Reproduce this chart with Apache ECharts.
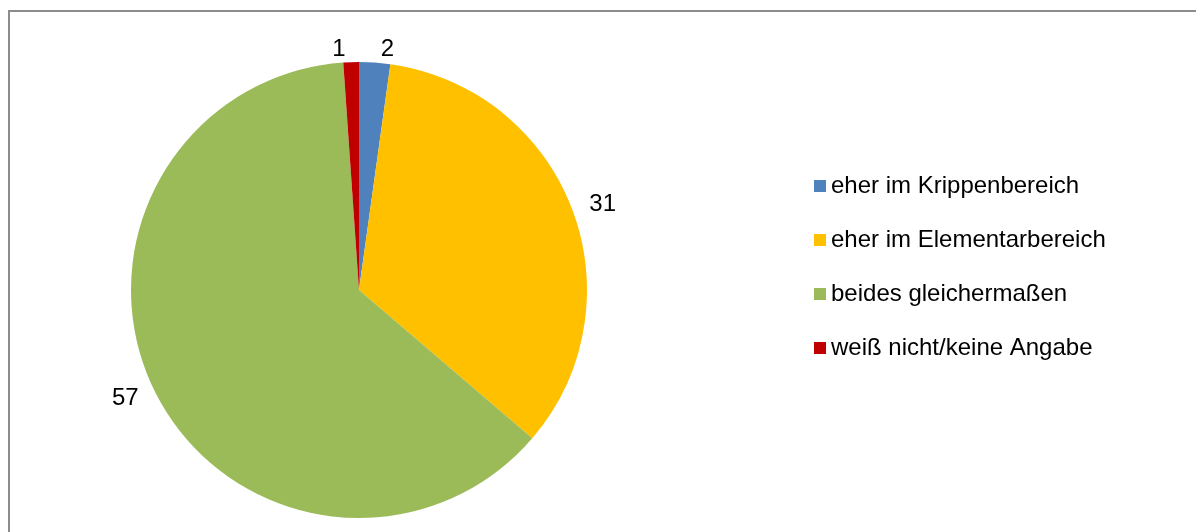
<!DOCTYPE html>
<html>
<head>
<meta charset="utf-8">
<script src="https://cdn.jsdelivr.net/npm/echarts@6/dist/echarts.min.js"></script>
<style>
    html, body { margin: 0; padding: 0; background: #fff; }
    #main { width: 1196px; height: 532px; }
</style>
</head>
<body>
<div id="main"></div>
<script>
var categories = ['eher im Krippenbereich', 'eher im Elementarbereich', 'beides gleichermaßen', 'weiß nicht/keine Angabe'];
var values = [2, 31, 57, 1];
var colors = ['#4F81BD', '#FFC000', '#9BBB59', '#C00000'];

var chart = echarts.init(document.getElementById('main'));

var pieData = [];
for (var i = 0; i < categories.length; i++) {
    pieData.push({
        name: categories[i],
        value: values[i],
        itemStyle: { color: colors[i] }
    });
}

var option = {
    animation: false,
    textStyle: {
        fontFamily: 'Liberation Sans, Arial, sans-serif'
    },
    graphic: [{
        type: 'rect',
        shape: { x: 9, y: 11, width: 1300, height: 600 },
        style: { fill: 'none', stroke: '#8c8c8c', lineWidth: 2 },
        silent: true
    }],
    legend: {
        orient: 'vertical',
        left: 814,
        top: 174,
        padding: 0,
        icon: 'rect',
        itemWidth: 12,
        itemHeight: 12,
        itemGap: 30,
        textStyle: {
            fontSize: 24,
            color: '#000',
            lineHeight: 24
        },
        data: categories
    },
    series: [{
        type: 'pie',
        center: [359, 290],
        radius: [0, 228],
        startAngle: 90,
        clockwise: true,
        avoidLabelOverlap: false,
        itemStyle: { borderWidth: 0 },
        label: {
            show: true,
            position: 'outside',
            formatter: '{c}',
            fontSize: 24,
            color: '#000'
        },
        labelLine: {
            show: false,
            length: 13,
            length2: 0
        },
        emphasis: { disabled: true },
        data: pieData
    }]
};

chart.setOption(option);
</script>
</body>
</html>
